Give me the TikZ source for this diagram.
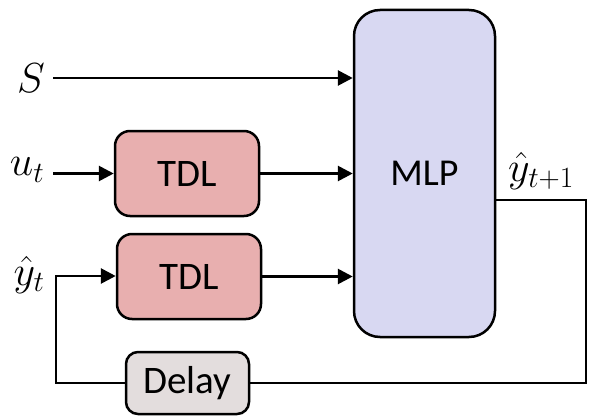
\RequirePackage{fix-cm}
\documentclass[tikz,border=0pt]{standalone}
\usepackage{fontspec}
\newfontfamily\boxfont{Carlito}
\usetikzlibrary{arrows.meta,positioning,calc}
\definecolor{tdlred}{RGB}{232,175,175}
\definecolor{mlpblue}{RGB}{216,216,242}
\definecolor{delaygray}{RGB}{227,221,221}
\tikzset{
  tdlbox/.style={draw=black, fill=tdlred, line width=2.5pt, rounded corners=15pt,
    minimum width=144pt, minimum height=85pt, font=\boxfont\fontsize{39}{44}\selectfont},
  mlpbox/.style={draw=black, fill=mlpblue, line width=2.5pt, rounded corners=26pt,
    minimum width=141pt, minimum height=327pt, font=\boxfont\fontsize{38}{44}\selectfont},
  delaybox/.style={draw=black, fill=delaygray, line width=2.5pt, rounded corners=12pt,
    minimum width=123pt, minimum height=62pt, font=\boxfont\fontsize{39}{44}\selectfont},
  sig/.style={inner sep=0pt, font=\fontsize{42}{50}\selectfont},
  arr/.style={-{Triangle[length=15pt,width=15pt]}, line width=2.8pt},
  wire/.style={line width=2.8pt}
}
\begin{document}
\begin{tikzpicture}[x=1pt,y=-1pt]
  \useasboundingbox (0,0) rectangle (607,417);
  % blocks
  \node[mlpbox] (mlp) at (424.5,173.5) {MLP};
  \node[tdlbox] (tdla) at (187,173.5) {TDL};
  \node[tdlbox] (tdlb) at (189,276.5) {TDL};
  \node[delaybox] (delay) at (187.5,383) {Delay};
  % signals
  \node[sig] (sin) at (31,78) {$S$};
  \node[sig] (uin) at (27,170) {$u_t$};
  \node[sig] (yin) at (29,275) {$\hat{y}_t$};
  \node[sig] (yout) at (541,171) {$\hat{y}_{t+1}$};
  \coordinate (fb) at (56,276);
  \coordinate (out) at (586,200);
  % connectors
  \draw[arr] (53,78) coordinate (s0) -- (s0 -| mlp.west);
  \draw[arr] (tdla.west -| 53,0) -- (tdla.west);
  \draw[arr] (tdla.east) -- (tdla.east -| mlp.west);
  \draw[arr] (tdlb.east) -- (tdlb.east -| mlp.west);
  \draw[wire] (mlp.east |- out) -- (out) |- (delay.east);
  \draw[arr] (delay.west) -| (fb) -- (fb -| tdlb.west);
\end{tikzpicture}
\end{document}
